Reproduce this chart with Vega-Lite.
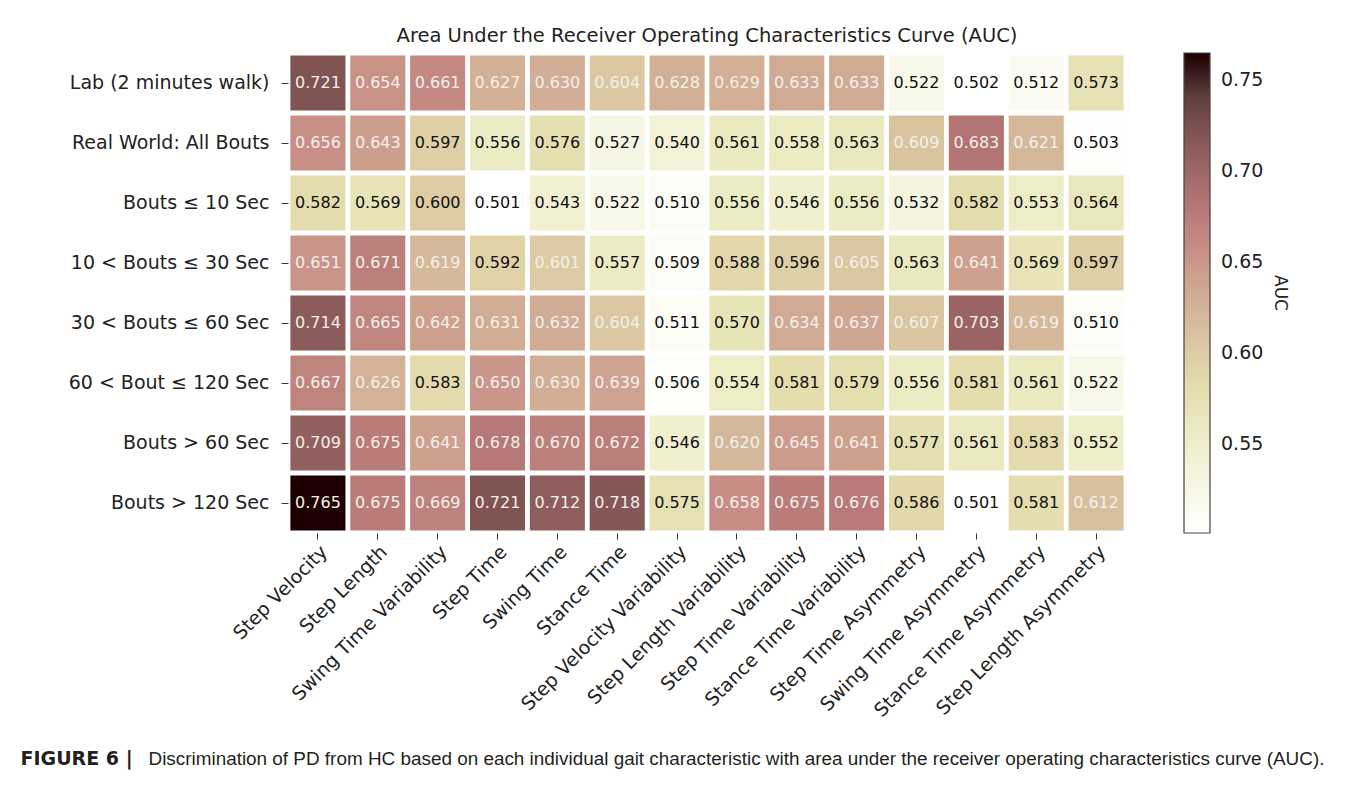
{
  "$schema": "https://vega.github.io/schema/vega-lite/v6.json",
  "width": 838,
  "height": 480,
  "autosize": {"type": "pad"},
  "padding": {"left": 20, "top": 25, "right": 10, "bottom": 10},
  "background": "white",
  "title": {
    "text": "Area Under the Receiver Operating Characteristics Curve (AUC)",
    "font": "DejaVu Sans",
    "fontSize": 19.5,
    "fontWeight": "normal",
    "color": "#222222",
    "offset": 7,
    "anchor": "middle"
  },
  "datasets": {
    "auc": [
      {"r": "Lab (2 minutes walk)", "f": "Step Velocity", "AUC": 0.721},
      {"r": "Lab (2 minutes walk)", "f": "Step Length", "AUC": 0.654},
      {"r": "Lab (2 minutes walk)", "f": "Swing Time Variability", "AUC": 0.661},
      {"r": "Lab (2 minutes walk)", "f": "Step Time", "AUC": 0.627},
      {"r": "Lab (2 minutes walk)", "f": "Swing Time", "AUC": 0.630},
      {"r": "Lab (2 minutes walk)", "f": "Stance Time", "AUC": 0.604},
      {"r": "Lab (2 minutes walk)", "f": "Step Velocity Variability", "AUC": 0.628},
      {"r": "Lab (2 minutes walk)", "f": "Step Length Variability", "AUC": 0.629},
      {"r": "Lab (2 minutes walk)", "f": "Step Time Variability", "AUC": 0.633},
      {"r": "Lab (2 minutes walk)", "f": "Stance Time Variability", "AUC": 0.633},
      {"r": "Lab (2 minutes walk)", "f": "Step Time Asymmetry", "AUC": 0.522},
      {"r": "Lab (2 minutes walk)", "f": "Swing Time Asymmetry", "AUC": 0.502},
      {"r": "Lab (2 minutes walk)", "f": "Stance Time Asymmetry", "AUC": 0.512},
      {"r": "Lab (2 minutes walk)", "f": "Step Length Asymmetry", "AUC": 0.573},
      {"r": "Real World: All Bouts", "f": "Step Velocity", "AUC": 0.656},
      {"r": "Real World: All Bouts", "f": "Step Length", "AUC": 0.643},
      {"r": "Real World: All Bouts", "f": "Swing Time Variability", "AUC": 0.597},
      {"r": "Real World: All Bouts", "f": "Step Time", "AUC": 0.556},
      {"r": "Real World: All Bouts", "f": "Swing Time", "AUC": 0.576},
      {"r": "Real World: All Bouts", "f": "Stance Time", "AUC": 0.527},
      {"r": "Real World: All Bouts", "f": "Step Velocity Variability", "AUC": 0.540},
      {"r": "Real World: All Bouts", "f": "Step Length Variability", "AUC": 0.561},
      {"r": "Real World: All Bouts", "f": "Step Time Variability", "AUC": 0.558},
      {"r": "Real World: All Bouts", "f": "Stance Time Variability", "AUC": 0.563},
      {"r": "Real World: All Bouts", "f": "Step Time Asymmetry", "AUC": 0.609},
      {"r": "Real World: All Bouts", "f": "Swing Time Asymmetry", "AUC": 0.683},
      {"r": "Real World: All Bouts", "f": "Stance Time Asymmetry", "AUC": 0.621},
      {"r": "Real World: All Bouts", "f": "Step Length Asymmetry", "AUC": 0.503},
      {"r": "Bouts ≤ 10 Sec", "f": "Step Velocity", "AUC": 0.582},
      {"r": "Bouts ≤ 10 Sec", "f": "Step Length", "AUC": 0.569},
      {"r": "Bouts ≤ 10 Sec", "f": "Swing Time Variability", "AUC": 0.600},
      {"r": "Bouts ≤ 10 Sec", "f": "Step Time", "AUC": 0.501},
      {"r": "Bouts ≤ 10 Sec", "f": "Swing Time", "AUC": 0.543},
      {"r": "Bouts ≤ 10 Sec", "f": "Stance Time", "AUC": 0.522},
      {"r": "Bouts ≤ 10 Sec", "f": "Step Velocity Variability", "AUC": 0.510},
      {"r": "Bouts ≤ 10 Sec", "f": "Step Length Variability", "AUC": 0.556},
      {"r": "Bouts ≤ 10 Sec", "f": "Step Time Variability", "AUC": 0.546},
      {"r": "Bouts ≤ 10 Sec", "f": "Stance Time Variability", "AUC": 0.556},
      {"r": "Bouts ≤ 10 Sec", "f": "Step Time Asymmetry", "AUC": 0.532},
      {"r": "Bouts ≤ 10 Sec", "f": "Swing Time Asymmetry", "AUC": 0.582},
      {"r": "Bouts ≤ 10 Sec", "f": "Stance Time Asymmetry", "AUC": 0.553},
      {"r": "Bouts ≤ 10 Sec", "f": "Step Length Asymmetry", "AUC": 0.564},
      {"r": "10 < Bouts ≤ 30 Sec", "f": "Step Velocity", "AUC": 0.651},
      {"r": "10 < Bouts ≤ 30 Sec", "f": "Step Length", "AUC": 0.671},
      {"r": "10 < Bouts ≤ 30 Sec", "f": "Swing Time Variability", "AUC": 0.619},
      {"r": "10 < Bouts ≤ 30 Sec", "f": "Step Time", "AUC": 0.592},
      {"r": "10 < Bouts ≤ 30 Sec", "f": "Swing Time", "AUC": 0.601},
      {"r": "10 < Bouts ≤ 30 Sec", "f": "Stance Time", "AUC": 0.557},
      {"r": "10 < Bouts ≤ 30 Sec", "f": "Step Velocity Variability", "AUC": 0.509},
      {"r": "10 < Bouts ≤ 30 Sec", "f": "Step Length Variability", "AUC": 0.588},
      {"r": "10 < Bouts ≤ 30 Sec", "f": "Step Time Variability", "AUC": 0.596},
      {"r": "10 < Bouts ≤ 30 Sec", "f": "Stance Time Variability", "AUC": 0.605},
      {"r": "10 < Bouts ≤ 30 Sec", "f": "Step Time Asymmetry", "AUC": 0.563},
      {"r": "10 < Bouts ≤ 30 Sec", "f": "Swing Time Asymmetry", "AUC": 0.641},
      {"r": "10 < Bouts ≤ 30 Sec", "f": "Stance Time Asymmetry", "AUC": 0.569},
      {"r": "10 < Bouts ≤ 30 Sec", "f": "Step Length Asymmetry", "AUC": 0.597},
      {"r": "30 < Bouts ≤ 60 Sec", "f": "Step Velocity", "AUC": 0.714},
      {"r": "30 < Bouts ≤ 60 Sec", "f": "Step Length", "AUC": 0.665},
      {"r": "30 < Bouts ≤ 60 Sec", "f": "Swing Time Variability", "AUC": 0.642},
      {"r": "30 < Bouts ≤ 60 Sec", "f": "Step Time", "AUC": 0.631},
      {"r": "30 < Bouts ≤ 60 Sec", "f": "Swing Time", "AUC": 0.632},
      {"r": "30 < Bouts ≤ 60 Sec", "f": "Stance Time", "AUC": 0.604},
      {"r": "30 < Bouts ≤ 60 Sec", "f": "Step Velocity Variability", "AUC": 0.511},
      {"r": "30 < Bouts ≤ 60 Sec", "f": "Step Length Variability", "AUC": 0.570},
      {"r": "30 < Bouts ≤ 60 Sec", "f": "Step Time Variability", "AUC": 0.634},
      {"r": "30 < Bouts ≤ 60 Sec", "f": "Stance Time Variability", "AUC": 0.637},
      {"r": "30 < Bouts ≤ 60 Sec", "f": "Step Time Asymmetry", "AUC": 0.607},
      {"r": "30 < Bouts ≤ 60 Sec", "f": "Swing Time Asymmetry", "AUC": 0.703},
      {"r": "30 < Bouts ≤ 60 Sec", "f": "Stance Time Asymmetry", "AUC": 0.619},
      {"r": "30 < Bouts ≤ 60 Sec", "f": "Step Length Asymmetry", "AUC": 0.510},
      {"r": "60 < Bout ≤ 120 Sec", "f": "Step Velocity", "AUC": 0.667},
      {"r": "60 < Bout ≤ 120 Sec", "f": "Step Length", "AUC": 0.626},
      {"r": "60 < Bout ≤ 120 Sec", "f": "Swing Time Variability", "AUC": 0.583},
      {"r": "60 < Bout ≤ 120 Sec", "f": "Step Time", "AUC": 0.650},
      {"r": "60 < Bout ≤ 120 Sec", "f": "Swing Time", "AUC": 0.630},
      {"r": "60 < Bout ≤ 120 Sec", "f": "Stance Time", "AUC": 0.639},
      {"r": "60 < Bout ≤ 120 Sec", "f": "Step Velocity Variability", "AUC": 0.506},
      {"r": "60 < Bout ≤ 120 Sec", "f": "Step Length Variability", "AUC": 0.554},
      {"r": "60 < Bout ≤ 120 Sec", "f": "Step Time Variability", "AUC": 0.581},
      {"r": "60 < Bout ≤ 120 Sec", "f": "Stance Time Variability", "AUC": 0.579},
      {"r": "60 < Bout ≤ 120 Sec", "f": "Step Time Asymmetry", "AUC": 0.556},
      {"r": "60 < Bout ≤ 120 Sec", "f": "Swing Time Asymmetry", "AUC": 0.581},
      {"r": "60 < Bout ≤ 120 Sec", "f": "Stance Time Asymmetry", "AUC": 0.561},
      {"r": "60 < Bout ≤ 120 Sec", "f": "Step Length Asymmetry", "AUC": 0.522},
      {"r": "Bouts > 60 Sec", "f": "Step Velocity", "AUC": 0.709},
      {"r": "Bouts > 60 Sec", "f": "Step Length", "AUC": 0.675},
      {"r": "Bouts > 60 Sec", "f": "Swing Time Variability", "AUC": 0.641},
      {"r": "Bouts > 60 Sec", "f": "Step Time", "AUC": 0.678},
      {"r": "Bouts > 60 Sec", "f": "Swing Time", "AUC": 0.670},
      {"r": "Bouts > 60 Sec", "f": "Stance Time", "AUC": 0.672},
      {"r": "Bouts > 60 Sec", "f": "Step Velocity Variability", "AUC": 0.546},
      {"r": "Bouts > 60 Sec", "f": "Step Length Variability", "AUC": 0.620},
      {"r": "Bouts > 60 Sec", "f": "Step Time Variability", "AUC": 0.645},
      {"r": "Bouts > 60 Sec", "f": "Stance Time Variability", "AUC": 0.641},
      {"r": "Bouts > 60 Sec", "f": "Step Time Asymmetry", "AUC": 0.577},
      {"r": "Bouts > 60 Sec", "f": "Swing Time Asymmetry", "AUC": 0.561},
      {"r": "Bouts > 60 Sec", "f": "Stance Time Asymmetry", "AUC": 0.583},
      {"r": "Bouts > 60 Sec", "f": "Step Length Asymmetry", "AUC": 0.552},
      {"r": "Bouts > 120 Sec", "f": "Step Velocity", "AUC": 0.765},
      {"r": "Bouts > 120 Sec", "f": "Step Length", "AUC": 0.675},
      {"r": "Bouts > 120 Sec", "f": "Swing Time Variability", "AUC": 0.669},
      {"r": "Bouts > 120 Sec", "f": "Step Time", "AUC": 0.721},
      {"r": "Bouts > 120 Sec", "f": "Swing Time", "AUC": 0.712},
      {"r": "Bouts > 120 Sec", "f": "Stance Time", "AUC": 0.718},
      {"r": "Bouts > 120 Sec", "f": "Step Velocity Variability", "AUC": 0.575},
      {"r": "Bouts > 120 Sec", "f": "Step Length Variability", "AUC": 0.658},
      {"r": "Bouts > 120 Sec", "f": "Step Time Variability", "AUC": 0.675},
      {"r": "Bouts > 120 Sec", "f": "Stance Time Variability", "AUC": 0.676},
      {"r": "Bouts > 120 Sec", "f": "Step Time Asymmetry", "AUC": 0.586},
      {"r": "Bouts > 120 Sec", "f": "Swing Time Asymmetry", "AUC": 0.501},
      {"r": "Bouts > 120 Sec", "f": "Stance Time Asymmetry", "AUC": 0.581},
      {"r": "Bouts > 120 Sec", "f": "Step Length Asymmetry", "AUC": 0.612}
    ]
  },
  "data": {"name": "auc"},
  "encoding": {
    "x": {
      "field": "f",
      "type": "nominal",
      "sort": ["Step Velocity", "Step Length", "Swing Time Variability", "Step Time", "Swing Time", "Stance Time", "Step Velocity Variability", "Step Length Variability", "Step Time Variability", "Stance Time Variability", "Step Time Asymmetry", "Swing Time Asymmetry", "Stance Time Asymmetry", "Step Length Asymmetry"],
      "scale": {"paddingInner": 0.08, "paddingOuter": 0.04},
      "axis": {
        "orient": "bottom",
        "domain": false,
        "ticks": true,
        "tickSize": 6,
        "tickColor": "#333333",
        "tickWidth": 1,
        "labelAngle": -45,
        "labelAlign": "right",
        "labelBaseline": "top",
        "labelPadding": 3,
        "labelFont": "DejaVu Sans",
        "labelFontSize": 19,
        "labelColor": "#222222",
        "labelLimit": 400,
        "title": "Discrimination of PD from HC based on each individual gait characteristic with area under the receiver operating characteristics curve (AUC).",
        "titleFont": "Liberation Sans",
        "titleFontSize": 18.9,
        "titleFontWeight": "normal",
        "titleColor": "#231f20",
        "titleAnchor": "start",
        "titleAlign": "left",
        "titleBaseline": "alphabetic",
        "titleAngle": 0,
        "titleX": -140,
        "titleY": 231,
        "titleLimit": 1400
      }
    },
    "y": {
      "field": "r",
      "type": "nominal",
      "sort": ["Lab (2 minutes walk)", "Real World: All Bouts", "Bouts ≤ 10 Sec", "10 < Bouts ≤ 30 Sec", "30 < Bouts ≤ 60 Sec", "60 < Bout ≤ 120 Sec", "Bouts > 60 Sec", "Bouts > 120 Sec"],
      "scale": {"paddingInner": 0.08, "paddingOuter": 0.04},
      "axis": {
        "domain": false,
        "ticks": true,
        "tickSize": 7,
        "tickColor": "#333333",
        "tickWidth": 1,
        "labelPadding": 12,
        "labelFont": "DejaVu Sans",
        "labelFontSize": 19,
        "labelColor": "#222222",
        "labelLimit": 400,
        "title": "FIGURE 6 |",
        "titleFont": "DejaVu Sans",
        "titleFontSize": 19,
        "titleFontWeight": "bold",
        "titleColor": "#231f20",
        "titleAngle": 0,
        "titleAlign": "left",
        "titleBaseline": "alphabetic",
        "titleX": -268,
        "titleY": 711
      }
    }
  },
  "layer": [
    {
      "mark": {"type": "rect"},
      "encoding": {
        "color": {
          "field": "AUC",
          "type": "quantitative",
          "scale": {
            "type": "linear",
            "domain": [0.501, 0.5274, 0.5538, 0.5802, 0.6066, 0.633, 0.6594, 0.6858, 0.7122, 0.7386, 0.765],
            "range": ["#ffffff", "#f6f6e4", "#ededc6", "#e4deae", "#dac6a1", "#d0ab93", "#c68b84", "#b07272", "#8f5d5d", "#654242", "#1e0000"],
            "interpolate": "rgb"
          },
          "legend": {
            "orient": "right",
            "offset": 58,
            "direction": "vertical",
            "gradientLength": 480,
            "gradientThickness": 26,
            "gradientStrokeColor": "#444444",
            "gradientStrokeWidth": 1.2,
            "values": [0.55, 0.6, 0.65, 0.7, 0.75],
            "format": ".2f",
            "labelFont": "DejaVu Sans",
            "labelFontSize": 19,
            "labelColor": "#222222",
            "labelOffset": 11,
            "title": "AUC",
            "titleOrient": "right",
            "titleAnchor": "middle",
            "titleFont": "DejaVu Sans",
            "titleFontSize": 17,
            "titleFontWeight": "normal",
            "titleColor": "#222222",
            "titlePadding": 8
          }
        }
      }
    },
    {
      "mark": {"type": "text", "font": "DejaVu Sans", "fontSize": 16},
      "encoding": {
        "text": {"field": "AUC", "type": "quantitative", "format": ".3f"},
        "color": {
          "condition": {"test": "datum.AUC > 0.6005", "value": "#f4f0ec"},
          "value": "#111111"
        }
      }
    }
  ],
  "config": {
    "view": {"stroke": null}
  }
}
